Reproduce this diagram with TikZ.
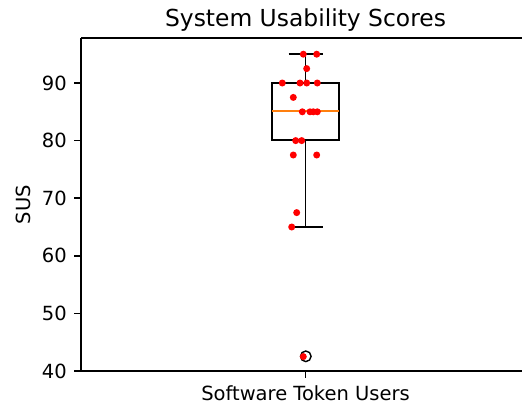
\documentclass[tikz,border=0pt]{standalone}
\usepackage{fontspec}
\setmainfont{DejaVu Sans}
\definecolor{mplorange}{HTML}{FF7F0E}
\definecolor{mpltext}{HTML}{262626}
\begin{document}
\begin{tikzpicture}[x=1pt,y=-1pt,
  spine/.style={line width=1.5pt,black},
  boxline/.style={line width=1.9pt,black},
  tickline/.style={line width=1.5pt,black},
  ticklab/.style={font=\fontsize{19.5}{20}\selectfont,text=black,inner sep=0pt},
  dot/.style={fill=red,draw=none},
  flier/.style={draw=black,line width=1.4pt,fill=none}]
\useasboundingbox (0,0) rectangle (522,407);
% axes frame
\draw[spine] (81,38) -- (522,38);
\draw[spine] (81,371) -- (522,371);
\draw[spine] (81,38) -- (81,371);
% y ticks
\foreach \v in {40,50,...,90}{
  \pgfmathsetmacro{\yy}{371-(\v-40)*5.76}
  \draw[tickline] (74,\yy) -- (81,\yy);
  \node[ticklab,anchor=base east] (yl\v) at (67,\yy+7.1) {\v};
}
% x tick
\draw[tickline] (305.5,371) -- (305.5,378);
\node[ticklab,anchor=base] (xl) at (305.5,400.5) {Software Token Users};
\node[ticklab,rotate=90,anchor=center] (ylab) at (23.5,204.5) {SUS};
\node[font=\fontsize{23.4}{24}\selectfont,inner sep=0pt,anchor=base] (title) at (305.5,26.3) {System Usability Scores};
% box
\coordinate (q1l) at (272,140.2);
\coordinate (q3r) at (339,82.6);
\draw[boxline] (q1l) rectangle (q3r);
\draw[boxline] (305.5,82.6) -- (305.5,54.2);
\draw[boxline] (305.5,140.2) -- (305.5,227);
\draw[boxline] (288.5,54.2) -- (322.5,54.2);
\draw[boxline] (288.5,227) -- (322.5,227);
\draw[line width=1.9pt,mplorange] (272,111.4) -- (339,111.4);
% flier
\draw[flier] (305.8,356.3) circle (5.3);
% points
\foreach \x/\v in {303.3/95,316.7/95,306.7/92.5,282.3/90,300/90,306.7/90,317.3/90,
  293.3/87.5,302.3/85,310/85,313.3/85,317.3/85,295.7/80,301.7/80,
  293.3/77.5,316.7/77.5,296.7/67.5,291.7/65,303.3/42.5}{
  \pgfmathsetmacro{\yy}{371-(\v-40)*5.76}
  \fill[dot] (\x,\yy) circle (3.5);
}
\end{tikzpicture}
\end{document}
